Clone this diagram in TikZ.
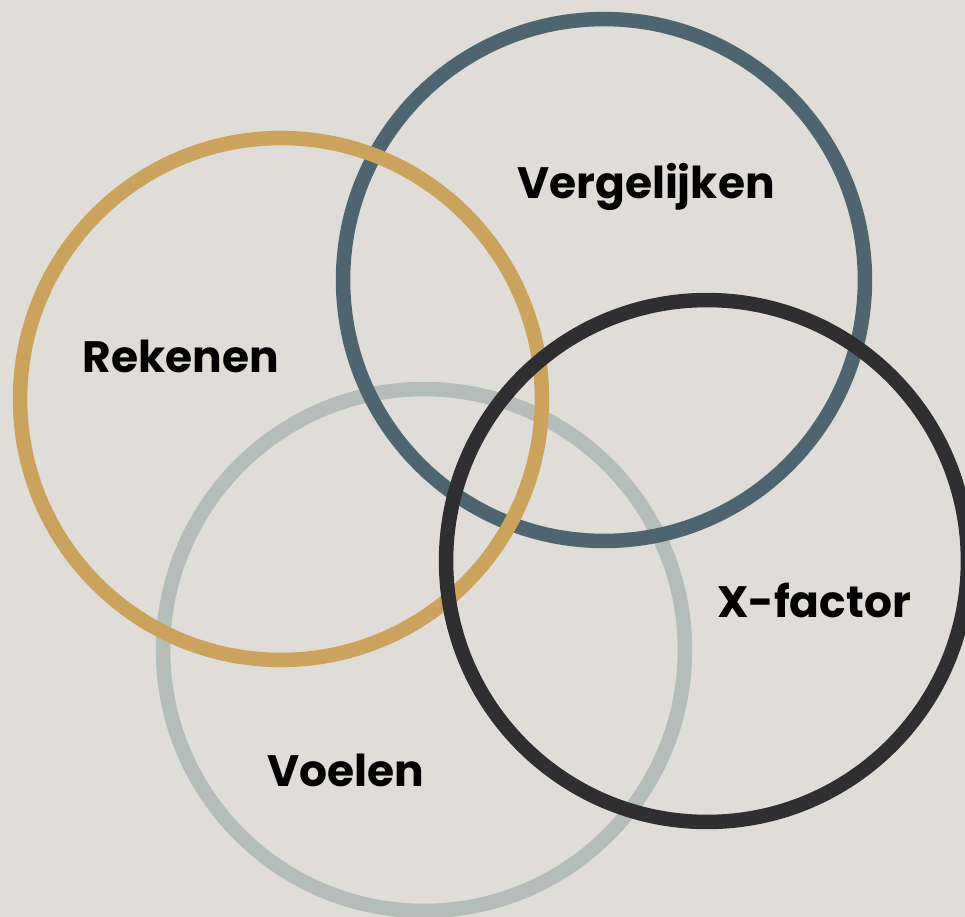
\documentclass[tikz,border=0pt]{standalone}
\usepackage{fontspec}
\setmainfont{Poppins}
\usepackage{tikz}
\usetikzlibrary{positioning}
\definecolor{PageBg}{RGB}{224,220,216}
\definecolor{RingGold}{RGB}{203,163,92}
\definecolor{RingSlate}{RGB}{78,101,112}
\definecolor{RingSage}{RGB}{180,189,185}
\definecolor{RingDark}{RGB}{47,47,49}

\begin{document}
\begin{tikzpicture}[x=0.02cm, y=-0.02cm,
        ring/.style={draw=#1, circle, line width=0.29cm, minimum size=10.44cm, inner sep=0pt},
        lbl/.style={font=\fontsize{25}{29}\selectfont\bfseries, text=black, inner sep=0pt}
]
    \fill[PageBg] (0,0) rectangle (965,917);
    \clip (0,0) rectangle (965,917);
    % rings, back to front
    \node[ring=RingSage]  (voelen) at (424,650) {};
    \node[ring=RingSlate] (vergel) at (604,280) {};
    \node[ring=RingGold]  (reken)  at (281,399) {};
    \node[ring=RingDark]  (xfact)  at (707,561) {};
    % labels
    \node[lbl] (tReken)  at (181,356) {Rekenen};
    \node[lbl] (tVergel) at (646,187) {Vergelijken};
    \node[lbl] (tXfact)  at (814,600) {X-factor};
    \node[lbl] (tVoelen) at (346,770) {Voelen};
\end{tikzpicture}
\end{document}
